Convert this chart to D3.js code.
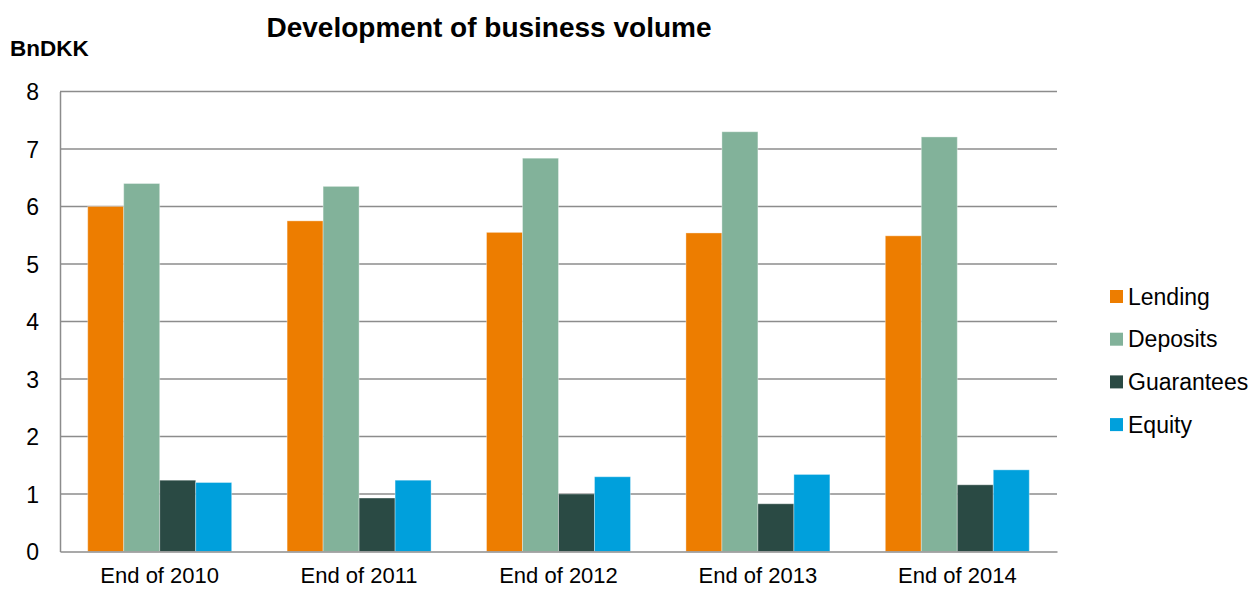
<!DOCTYPE html>
<html>
<head>
<meta charset="utf-8">
<script src="https://cdn.jsdelivr.net/npm/d3@7"></script>
<style>
  body { margin: 0; background: #fff; }
  svg { font-family: "Liberation Sans", Arial, sans-serif; }
</style>
</head>
<body>
<svg id="chart" width="1260" height="589"></svg>
<script>
// --- data ---
const categories = ['End of 2010', 'End of 2011', 'End of 2012', 'End of 2013', 'End of 2014'];
const seriesNames = ['Lending', 'Deposits', 'Guarantees', 'Equity'];
const lending    = [6.00, 5.75, 5.55, 5.54, 5.49];
const deposits   = [6.40, 6.35, 6.84, 7.30, 7.21];
const guarantees = [1.24, 0.93, 1.00, 0.83, 1.16];
const equity     = [1.20, 1.24, 1.30, 1.34, 1.42];
const yTicks = [0, 1, 2, 3, 4, 5, 6, 7, 8];
const colors = ['#ED7D00', '#82B29A', '#2A4A44', '#00A0DC'];

const seriesValues = [lending, deposits, guarantees, equity];

const svg = d3.select('#chart');
const margin = { top: 91.5, right: 203, bottom: 37.5, left: 60 };
const width = 1260 - margin.left - margin.right;
const height = 589 - margin.top - margin.bottom;

const g = svg.append('g').attr('transform', `translate(${margin.left},${margin.top})`);

const x0 = d3.scaleBand().domain(categories).range([0, width])
    .paddingInner(0.278).paddingOuter(0.139);
const x1 = d3.scaleBand().domain(seriesNames).range([0, x0.bandwidth()]);
const y = d3.scaleLinear().domain([0, 8]).range([height, 0]);

// gridlines
g.append('g')
    .selectAll('line')
    .data(yTicks.filter(d => d > 0))
    .join('line')
    .attr('x1', 0).attr('x2', width)
    .attr('y1', d => y(d)).attr('y2', d => y(d))
    .attr('stroke', '#8c8c8c').attr('stroke-width', 1.5);

// bars
const groups = g.append('g')
    .selectAll('g')
    .data(categories)
    .join('g')
    .attr('transform', d => `translate(${x0(d)},0)`);

groups.selectAll('rect')
    .data((c, i) => seriesNames.map((s, k) => ({ s, k, v: seriesValues[k][i] })))
    .join('rect')
    .attr('x', d => x1(d.s))
    .attr('y', d => y(d.v))
    .attr('width', x1.bandwidth())
    .attr('height', d => y(0) - y(d.v))
    .attr('fill', d => colors[d.k])
    .attr('stroke', 'rgba(255,255,255,0.35)')
    .attr('stroke-width', 1);

// y axis
const yAxis = g.append('g')
    .call(d3.axisLeft(y).tickValues(yTicks).tickSize(0).tickPadding(21).tickFormat(d3.format('d')));
yAxis.select('.domain').attr('stroke', '#8c8c8c').attr('stroke-width', 1.5);
yAxis.selectAll('text').style('font-size', '23px').attr('fill', '#000').attr('dy', '0.36em');

// x axis
const xAxis = g.append('g')
    .attr('transform', `translate(0,${height})`)
    .call(d3.axisBottom(x0).tickSize(0).tickPadding(16));
xAxis.select('.domain').attr('stroke', '#8c8c8c').attr('stroke-width', 1.5);
xAxis.selectAll('text').style('font-size', '22px').attr('fill', '#000');

// title
svg.append('text')
    .attr('x', 489).attr('y', 37)
    .attr('text-anchor', 'middle')
    .style('font-size', '28px').style('font-weight', 'bold')
    .text('Development of business volume');

// unit label
svg.append('text')
    .attr('x', 10).attr('y', 56)
    .style('font-size', '22.5px').style('font-weight', 'bold')
    .text('BnDKK');

// legend
const legend = svg.append('g').attr('transform', 'translate(1110,296.5)');
const items = legend.selectAll('g')
    .data(seriesNames)
    .join('g')
    .attr('transform', (d, i) => `translate(0,${i * 42.7})`);
items.append('rect')
    .attr('x', 0).attr('y', -6.5).attr('width', 13).attr('height', 13)
    .attr('fill', (d, i) => colors[i]);
items.append('text')
    .attr('x', 18).attr('y', 0).attr('dy', '0.36em')
    .style('font-size', '23px')
    .text(d => d);
</script>
</body>
</html>
